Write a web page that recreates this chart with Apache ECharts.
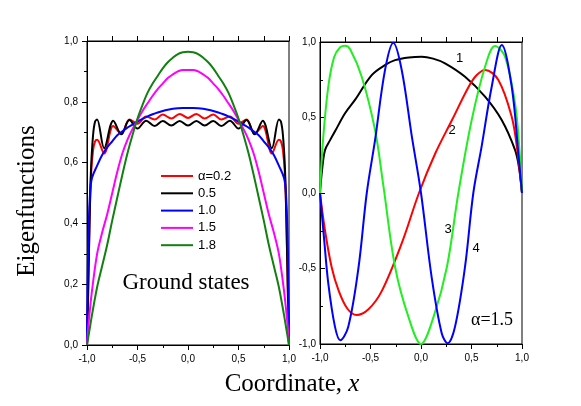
<!DOCTYPE html>
<html>
<head>
<meta charset="utf-8">
<script src="https://cdn.jsdelivr.net/npm/echarts@6/dist/echarts.min.js"></script>
<style>
  html, body { margin: 0; padding: 0; background: #fff; }
  #chart { width: 581px; height: 406px; }
</style>
</head>
<body>
<div id="chart"></div>
<script>
// left panel: ground states for several alpha
const xWave = [-1, -0.99, -0.975, -0.96, -0.94, -0.92, -0.9, -0.83, -0.74, -0.66, -0.58, -0.5, -0.415, -0.33, -0.25, -0.165, -0.083, 0,
  0.083, 0.165, 0.25, 0.33, 0.415, 0.5, 0.58, 0.66, 0.74, 0.83, 0.9, 0.92, 0.94, 0.96, 0.975, 0.99, 1];
const alpha02 = [0, 0.15, 0.4, 0.56, 0.64, 0.67, 0.675, 0.63, 0.72, 0.695, 0.742, 0.728, 0.752, 0.742, 0.758, 0.745, 0.76, 0.747,
  0.76, 0.745, 0.758, 0.742, 0.752, 0.728, 0.742, 0.695, 0.72, 0.63, 0.675, 0.67, 0.64, 0.56, 0.4, 0.15, 0];
const alpha05 = [0, 0.15, 0.4, 0.58, 0.69, 0.735, 0.742, 0.647, 0.738, 0.693, 0.74, 0.712, 0.738, 0.72, 0.737, 0.722, 0.737, 0.722,
  0.737, 0.722, 0.737, 0.72, 0.738, 0.712, 0.74, 0.693, 0.738, 0.647, 0.742, 0.735, 0.69, 0.58, 0.4, 0.15, 0];

const xSmooth = [-1, -0.99, -0.97, -0.95, -0.9, -0.85, -0.8, -0.75, -0.7, -0.65, -0.6, -0.55, -0.5, -0.45, -0.4, -0.35, -0.3, -0.25,
  -0.2, -0.15, -0.1, -0.05, 0, 0.05, 0.1, 0.15, 0.2, 0.25, 0.3, 0.35, 0.4, 0.45, 0.5, 0.55, 0.6, 0.65, 0.7, 0.75, 0.8, 0.85, 0.9,
  0.95, 0.97, 0.99, 1];
const alpha10 = [0, 0.3, 0.5, 0.55, 0.59, 0.625, 0.65, 0.67, 0.69, 0.703, 0.715, 0.725, 0.735, 0.744, 0.752, 0.759, 0.765, 0.77,
  0.774, 0.777, 0.779, 0.78, 0.78, 0.78, 0.779, 0.777, 0.774, 0.77, 0.765, 0.759, 0.752, 0.744, 0.735, 0.725, 0.715, 0.703, 0.69,
  0.67, 0.65, 0.625, 0.59, 0.55, 0.5, 0.3, 0];
const alpha15 = [0, 0.05, 0.12, 0.18, 0.3, 0.37, 0.43, 0.5, 0.57, 0.63, 0.675, 0.71, 0.74, 0.77, 0.795, 0.82, 0.842, 0.86,
  0.878, 0.89, 0.9, 0.905, 0.905, 0.905, 0.9, 0.89, 0.878, 0.86, 0.842, 0.82, 0.795, 0.77, 0.74, 0.71, 0.675, 0.63, 0.57,
  0.5, 0.43, 0.37, 0.3, 0.18, 0.12, 0.05, 0];
const alpha18 = [0, 0.02, 0.06, 0.1, 0.19, 0.26, 0.33, 0.41, 0.485, 0.56, 0.63, 0.69, 0.745, 0.79, 0.83, 0.86, 0.885, 0.91,
  0.93, 0.945, 0.957, 0.963, 0.965, 0.963, 0.957, 0.945, 0.93, 0.91, 0.885, 0.86, 0.83, 0.79, 0.745, 0.69, 0.63, 0.56, 0.485,
  0.41, 0.33, 0.26, 0.19, 0.1, 0.06, 0.02, 0];

// right panel: states 1..4 for alpha = 1.5
const state1X = [-1, -0.98, -0.95, -0.9, -0.85, -0.752, -0.65, -0.488, -0.35, -0.257, -0.12, 0.007, 0.12, 0.238, 0.436, 0.634, 0.799, 0.931, 0.97, 1];
const state1Y = [0, 0.15, 0.285, 0.35, 0.41, 0.528, 0.62, 0.781, 0.85, 0.88, 0.898, 0.903, 0.89, 0.859, 0.77, 0.638, 0.483, 0.285, 0.17, 0];
const state2X = [-1, -0.95, -0.885, -0.818, -0.73, -0.637, -0.52, -0.389, -0.191, -0.02, 0.142, 0.307, 0.472, 0.55, 0.634, 0.766, 0.898, 0.95, 1];
const state2Y = [0, -0.25, -0.49, -0.642, -0.765, -0.808, -0.77, -0.65, -0.333, 0, 0.263, 0.483, 0.704, 0.78, 0.815, 0.748, 0.505, 0.3, 0];
const state3X = [-1, -0.97, -0.918, -0.86, -0.8, -0.75, -0.7, -0.587, -0.455, -0.373, -0.257, -0.125, 0, 0.125, 0.257, 0.37, 0.502, 0.634, 0.733, 0.832, 0.931, 0.97, 1];
const state3Y = [0, 0.35, 0.704, 0.9, 0.965, 0.975, 0.95, 0.77, 0.417, 0.05, -0.488, -0.819, -1, -0.819, -0.488, 0, 0.483, 0.836, 0.974, 0.903, 0.594, 0.33, 0];
const state4X = [-1, -0.96, -0.918, -0.852, -0.8, -0.72, -0.62, -0.537, -0.455, -0.356, -0.274, -0.191, -0.092, 0, 0.106, 0.205, 0.264, 0.337, 0.436, 0.518, 0.6, 0.7, 0.8, 0.898, 0.964, 1];
const state4Y = [0, -0.3, -0.598, -0.885, -0.975, -0.885, -0.5, 0, 0.35, 0.815, 0.995, 0.815, 0.38, 0, -0.56, -0.929, -0.995, -0.885, -0.488, 0, 0.307, 0.704, 0.98, 0.704, 0.263, 0];

const pairs = (xs, ys) => xs.map((x, i) => [x, ys[i]]);
const comma = (v) => v.toFixed(1).replace(".", ",");

const ink = "#000";
const sans = "Liberation Sans";
const serif = "Liberation Serif";

const bottomAxis = (grid) => ({
  gridIndex: grid,
  type: "value",
  min: -1,
  max: 1,
  interval: 0.5,
  position: "bottom",
  axisLine: { show: true, onZero: false, lineStyle: { color: ink, width: 1 } },
  axisTick: { show: true, inside: false, length: 5, lineStyle: { color: ink } },
  minorTick: { show: true, splitNumber: 2, length: 3, lineStyle: { color: ink } },
  axisLabel: { formatter: comma, fontFamily: sans, fontSize: 10, color: ink, margin: 9 },
  splitLine: { show: false },
});

const topAxis = (grid) => ({
  gridIndex: grid,
  type: "value",
  min: -1,
  max: 1,
  interval: 0.25,
  position: "top",
  axisLine: { show: true, onZero: false, lineStyle: { color: ink, width: 1 } },
  axisTick: { show: true, inside: false, length: 5, lineStyle: { color: ink } },
  axisLabel: { show: false },
  splitLine: { show: false },
});

const line = (name, data, color, xi, yi) => ({
  name,
  type: "line",
  data,
  xAxisIndex: xi,
  yAxisIndex: yi,
  showSymbol: false,
  smooth: 0.35,
  lineStyle: { color, width: 2 },
  itemStyle: { color },
});

const chart = echarts.init(document.getElementById("chart"));

chart.setOption({
  animation: false,
  backgroundColor: "#fff",
  grid: [
    { left: 87, top: 41, width: 202, height: 304, show: true, borderColor: ink, borderWidth: 1 },
    { left: 320, top: 42, width: 202, height: 302, show: true, borderColor: ink, borderWidth: 1 },
  ],
  legend: {
    data: ["α=0.2", "0.5", "1.0", "1.5", "1.8"],
    orient: "vertical",
    left: 156,
    top: 164,
    icon: "rect",
    itemWidth: 32,
    itemHeight: 2,
    itemGap: 3.3,
    textStyle: { fontFamily: sans, fontSize: 13, color: ink, lineHeight: 14 },
  },
  xAxis: [bottomAxis(0), topAxis(0), bottomAxis(1), topAxis(1)],
  yAxis: [
    {
      gridIndex: 0,
      type: "value",
      min: 0,
      max: 1,
      interval: 0.2,
      axisLine: { show: true, onZero: false, lineStyle: { color: ink, width: 1 } },
      axisTick: { show: true, inside: false, length: 5, lineStyle: { color: ink } },
      minorTick: { show: true, splitNumber: 2, length: 3, lineStyle: { color: ink } },
      axisLabel: { formatter: comma, fontFamily: sans, fontSize: 10, color: ink, margin: 9 },
      splitLine: { show: false },
    },
    {
      gridIndex: 1,
      type: "value",
      min: -1,
      max: 1,
      interval: 0.5,
      axisLine: { show: true, onZero: false, lineStyle: { color: ink, width: 1 } },
      axisTick: { show: true, inside: true, length: 5, lineStyle: { color: ink } },
      minorTick: { show: true, splitNumber: 2, length: 3, lineStyle: { color: ink } },
      axisLabel: { formatter: comma, fontFamily: sans, fontSize: 10, color: ink, margin: 4 },
      splitLine: { show: false },
    },
  ],
  series: [
    line("α=0.2", pairs(xWave, alpha02), "#ff0000", 0, 0),
    line("0.5", pairs(xWave, alpha05), "#000000", 0, 0),
    line("1.0", pairs(xSmooth, alpha10), "#0000ff", 0, 0),
    line("1.5", pairs(xSmooth, alpha15), "#ff00ff", 0, 0),
    line("1.8", pairs(xSmooth, alpha18), "#108010", 0, 0),
    line("n1", pairs(state1X, state1Y), "#000000", 2, 1),
    line("n2", pairs(state2X, state2Y), "#ff0000", 2, 1),
    line("n3", pairs(state3X, state3Y), "#22ee22", 2, 1),
    line("n4", pairs(state4X, state4Y), "#0000ff", 2, 1),
  ],
  graphic: [
    {
      type: "text",
      x: 27.5,
      y: 201,
      rotation: Math.PI / 2,
      style: { text: "Eigenfunctions", font: `25px "${serif}"`, fill: ink, align: "center", verticalAlign: "middle" },
    },
    {
      type: "text",
      x: 292,
      y: 384,
      style: {
        text: "{n|Coordinate, }{i|x}",
        align: "center",
        verticalAlign: "middle",
        rich: {
          n: { font: `25px "${serif}"`, fill: ink },
          i: { font: `italic 25px "${serif}"`, fill: ink },
        },
      },
    },
    {
      type: "text",
      x: 186,
      y: 283,
      style: { text: "Ground states", font: `23px "${serif}"`, fill: ink, align: "center", verticalAlign: "middle" },
    },
    {
      type: "text",
      x: 492,
      y: 320,
      style: { text: "α=1.5", font: `18px "${serif}"`, fill: ink, align: "center", verticalAlign: "middle" },
    },
    { type: "text", x: 459.5, y: 58, style: { text: "1", font: `13px "${sans}"`, fill: ink, align: "center", verticalAlign: "middle" } },
    { type: "text", x: 452, y: 130.5, style: { text: "2", font: `13px "${sans}"`, fill: ink, align: "center", verticalAlign: "middle" } },
    { type: "text", x: 448, y: 229, style: { text: "3", font: `13px "${sans}"`, fill: ink, align: "center", verticalAlign: "middle" } },
    { type: "text", x: 476, y: 248, style: { text: "4", font: `13px "${sans}"`, fill: ink, align: "center", verticalAlign: "middle" } },
  ],
});
</script>
</body>
</html>
